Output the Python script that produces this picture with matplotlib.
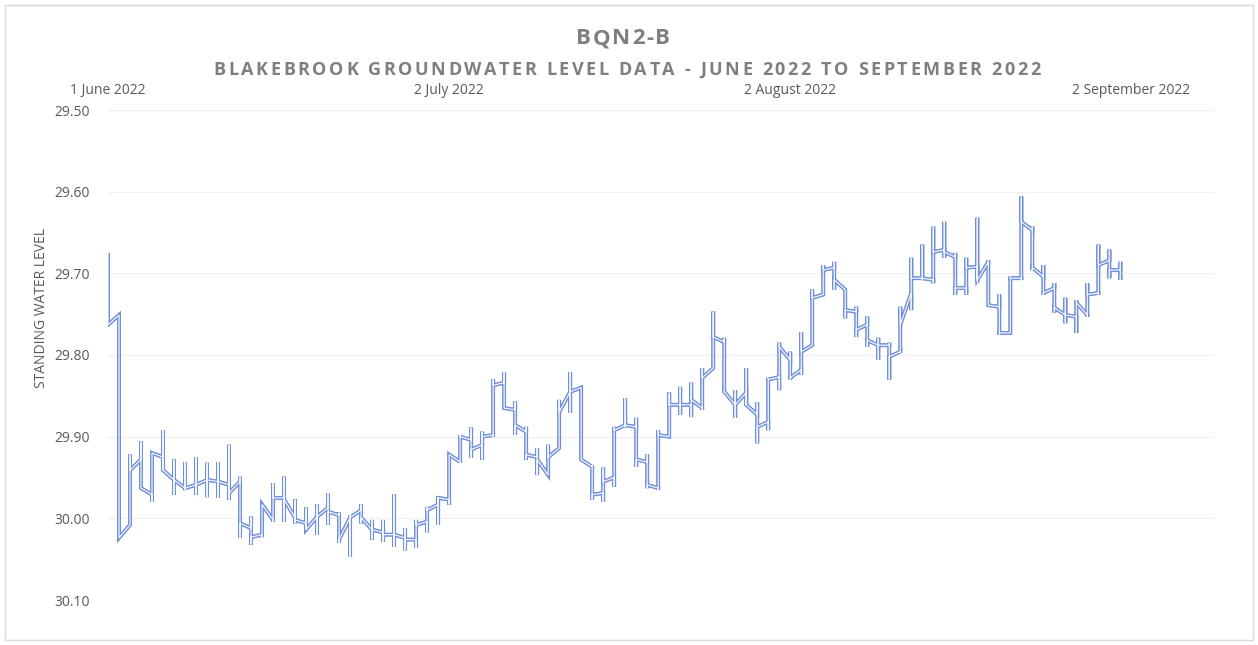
import matplotlib
matplotlib.use("Agg")
import matplotlib.pyplot as plt
import matplotlib.patheffects as pe
from matplotlib.patches import Rectangle
from matplotlib.font_manager import FontProperties

# ---- data (daily readings, day 0 = 1 June 2022) ----
day_high = [29.675, 29.751, 29.922, 29.906, 29.920, 29.892, 29.928, 29.931, 29.925, 29.932,
            29.931, 29.910, 29.949, 29.998, 29.983, 29.957, 29.949, 29.977, 29.987, 29.983,
            29.969, 29.993, 29.996, 29.983, 30.002, 30.002, 29.971, 30.012, 30.002, 29.986,
            29.974, 29.922, 29.898, 29.889, 29.894, 29.830, 29.821, 29.857, 29.888, 29.914,
            29.910, 29.855, 29.821, 29.840, 29.935, 29.938, 29.888, 29.853, 29.877, 29.922,
            29.892, 29.846, 29.839, 29.834, 29.816, 29.747, 29.779, 29.843, 29.816, 29.858,
            29.828, 29.785, 29.796, 29.772, 29.720, 29.690, 29.686, 29.720, 29.741, 29.753,
            29.779, 29.785, 29.741, 29.681, 29.665, 29.643, 29.637, 29.675, 29.681, 29.632,
            29.684, 29.726, 29.704, 29.606, 29.643, 29.690, 29.712, 29.730, 29.733, 29.712,
            29.665, 29.671, 29.686]
day_low = [29.763, 30.024, 30.008, 29.963, 29.980, 29.941, 29.971, 29.965, 29.971, 29.974,
           29.975, 29.977, 30.024, 30.032, 30.023, 30.004, 30.004, 30.006, 30.014, 30.020,
           30.008, 30.030, 30.047, 30.006, 30.026, 30.029, 30.035, 30.039, 30.036, 30.017,
           30.008, 29.983, 29.932, 29.926, 29.928, 29.900, 29.865, 29.898, 29.928, 29.947,
           29.947, 29.914, 29.871, 29.928, 29.977, 29.980, 29.961, 29.888, 29.937, 29.963,
           29.965, 29.900, 29.873, 29.876, 29.867, 29.816, 29.846, 29.877, 29.861, 29.908,
           29.892, 29.843, 29.830, 29.824, 29.788, 29.726, 29.720, 29.755, 29.778, 29.790,
           29.806, 29.830, 29.797, 29.745, 29.708, 29.712, 29.681, 29.726, 29.726, 29.711,
           29.739, 29.775, 29.772, 29.708, 29.696, 29.726, 29.748, 29.761, 29.773, 29.753,
           29.726, 29.706, 29.708]
day_first = [29.675, 29.751, 30.008, 29.928, 29.971, 29.925, 29.953, 29.963, 29.959, 29.953,
             29.955, 29.959, 29.955, 30.012, 30.020, 30.002, 29.975, 29.999, 30.006, 29.998,
             29.987, 29.996, 29.999, 29.990, 30.014, 30.017, 30.020, 30.024, 30.026, 30.004,
             29.983, 29.977, 29.931, 29.904, 29.910, 29.898, 29.834, 29.867, 29.894, 29.925,
             29.947, 29.914, 29.845, 29.840, 29.937, 29.969, 29.950, 29.886, 29.888, 29.931,
             29.963, 29.900, 29.861, 29.861, 29.865, 29.816, 29.784, 29.861, 29.846, 29.873,
             29.882, 29.827, 29.806, 29.818, 29.788, 29.726, 29.693, 29.720, 29.747, 29.763,
             29.788, 29.788, 29.796, 29.724, 29.706, 29.708, 29.671, 29.680, 29.718, 29.692,
             29.686, 29.741, 29.773, 29.706, 29.647, 29.704, 29.718, 29.751, 29.753, 29.751,
             29.724, 29.684, 29.696]
day_last = [29.763, 30.024, 29.941, 29.963, 29.920, 29.941, 29.953, 29.963, 29.959, 29.953,
            29.955, 29.969, 30.006, 30.023, 29.983, 29.975, 29.977, 30.002, 30.014, 29.998,
            29.992, 30.026, 29.999, 29.999, 30.014, 30.020, 30.020, 30.026, 30.008, 29.990,
            29.975, 29.922, 29.900, 29.916, 29.900, 29.837, 29.865, 29.886, 29.922, 29.928,
            29.925, 29.870, 29.845, 29.928, 29.971, 29.955, 29.892, 29.886, 29.928, 29.959,
            29.898, 29.861, 29.861, 29.855, 29.828, 29.778, 29.845, 29.861, 29.861, 29.888,
            29.830, 29.790, 29.828, 29.796, 29.730, 29.696, 29.708, 29.745, 29.769, 29.782,
            29.788, 29.802, 29.763, 29.706, 29.706, 29.674, 29.674, 29.718, 29.693, 29.708,
            29.739, 29.773, 29.706, 29.637, 29.693, 29.724, 29.742, 29.751, 29.736, 29.726,
            29.690, 29.696, 29.702]

date_ticks = [0, 31, 62, 93]
date_labels = ["1 June 2022", "2 July 2022", "2 August 2022", "2 September 2022"]
level_ticks = [29.50, 29.60, 29.70, 29.80, 29.90, 30.00, 30.10]

title = "BQN2-B"
subtitle = "BLAKEBROOK GROUNDWATER LEVEL DATA - JUNE 2022 TO SEPTEMBER 2022"
ylabel = "STANDING WATER LEVEL"

# ---- build the path through each day's readings ----
xs, ys = [], []
for i, (f, h, l, e) in enumerate(zip(day_first, day_high, day_low, day_last)):
    seq = [f, h, l, e] if abs(f - h) < abs(f - l) else [f, l, h, e]
    for v in seq:
        xs.append(i)
        ys.append(v)

plt.rcParams['font.family'] = ['Open Sans', 'DejaVu Sans']
txt_col = '#595959'
title_col = '#7f7f7f'

W, H = 1258, 645
fig = plt.figure(figsize=(W / 100, H / 100), dpi=100)
fig.patch.set_facecolor('white')
fig.patches.append(Rectangle((0.004, 0.008), 0.992, 0.984, transform=fig.transFigure,
                             fill=False, edgecolor='#d9d9d9', linewidth=1.0))

ax = fig.add_axes([108 / W, 1 - 600 / H, (1215 - 108) / W, (600 - 110) / H])
ax.set_xlim(0, 100.6)
ax.set_ylim(30.10, 29.50)

for v in level_ticks:
    ax.axhline(v, color='#f0f0f0', linewidth=0.9, zorder=0)

line, = ax.plot(xs, ys, color='#6d8fe0', linewidth=2.5, solid_joinstyle='miter',
                solid_capstyle='butt', zorder=3)
line.set_path_effects([pe.Stroke(linewidth=2.8, foreground='#8393bb'), pe.Normal()])
ax.plot(xs, ys, color='white', linewidth=0.9, solid_joinstyle='miter',
        solid_capstyle='butt', zorder=4, alpha=0.9)

ax.xaxis.tick_top()
ax.set_xticks(date_ticks)
ax.set_xticklabels(date_labels)
ax.set_yticks(level_ticks)
ax.set_yticklabels([f"{v:.2f}" for v in level_ticks])
ax.tick_params(axis='x', length=0, pad=8.7, labelsize=10, labelcolor=txt_col)
ax.tick_params(axis='y', length=0, pad=13, labelsize=10, labelcolor=txt_col)
for s in ax.spines.values():
    s.set_visible(False)

fig.text(42 / W, 1 - 308 / H, ylabel, rotation=90, ha='center', va='center',
         fontsize=10, color=txt_col)

# letter-spaced headings
renderer = fig.canvas.get_renderer()


def spaced_text(s, cx, cy, size, target_w):
    prop = FontProperties(family=['Open Sans', 'DejaVu Sans'], weight='bold', size=size)
    base = renderer.get_text_width_height_descent("HH", prop, ismath=False)[0]
    widths = [renderer.get_text_width_height_descent("H" + ch + "H", prop, ismath=False)[0] - base
              for ch in s]
    natural = sum(widths)
    track = max(0.0, (target_w - natural) / (len(s) - 1))
    x = cx - (natural + track * (len(s) - 1)) / 2
    for ch, w in zip(s, widths):
        fig.text(x / W, 1 - cy / H, ch, ha='left', va='center', fontproperties=prop,
                 color=title_col)
        x += w + track


spaced_text(title, 623, 39, 16, 93)
spaced_text(subtitle, 627, 70, 13, 827)

fig.savefig("out.png", dpi=100, facecolor='white')
